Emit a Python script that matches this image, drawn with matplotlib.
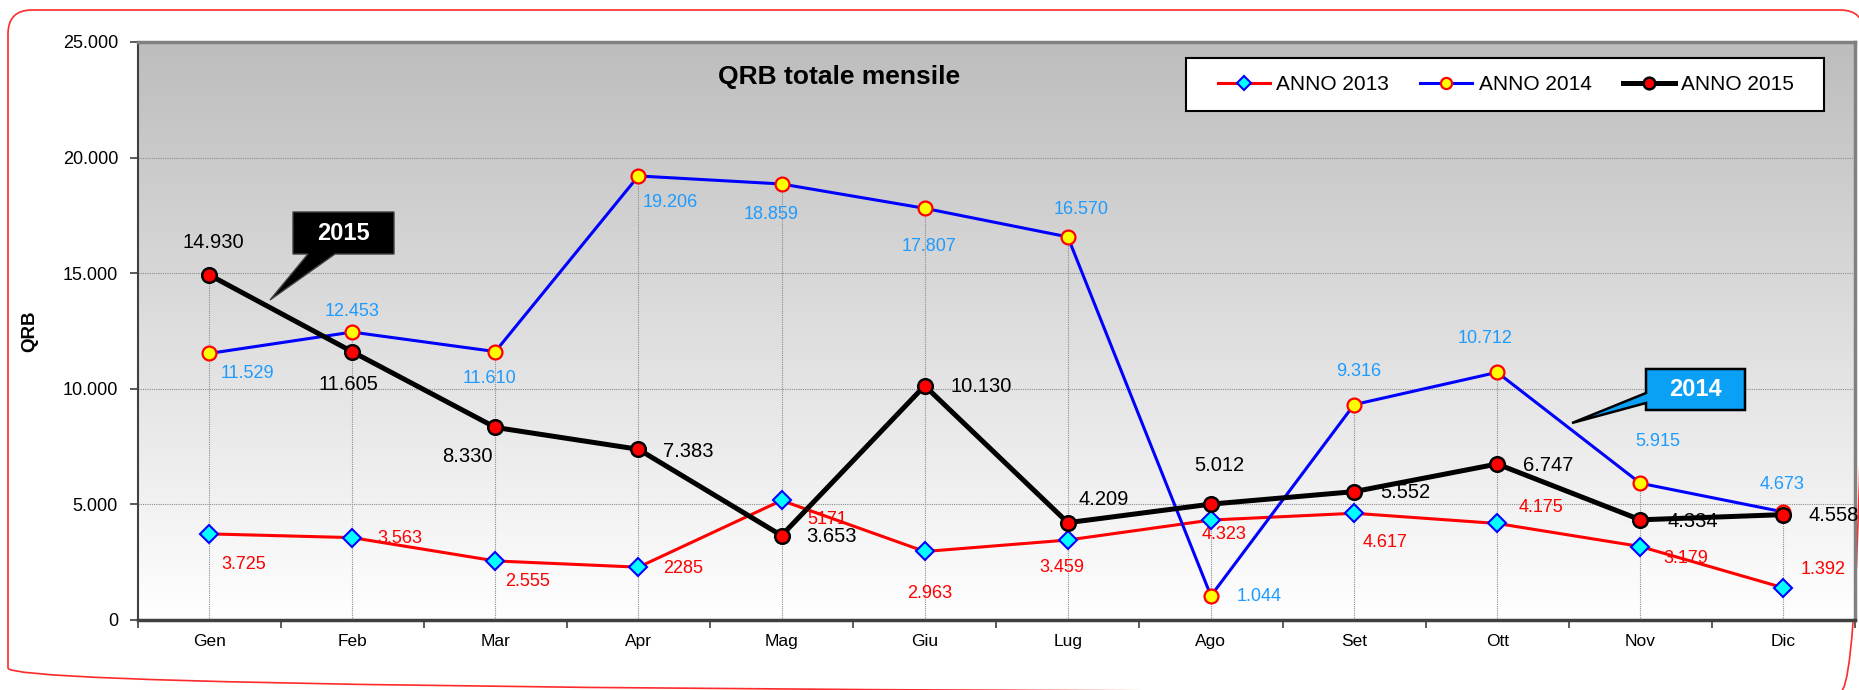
import matplotlib
matplotlib.use("Agg")
import matplotlib.pyplot as plt
import numpy as np
from matplotlib.patches import Polygon, Rectangle, FancyBboxPatch
from matplotlib.colors import LinearSegmentedColormap
from matplotlib.ticker import FixedLocator, FuncFormatter, NullFormatter
from matplotlib.lines import Line2D
from matplotlib.transforms import Affine2D

plt.rcParams['font.family'] = ['Liberation Sans', 'DejaVu Sans']

# ---------------- data ----------------
months = ["Gen", "Feb", "Mar", "Apr", "Mag", "Giu", "Lug", "Ago", "Set", "Ott", "Nov", "Dic"]
anno2013 = [3725, 3563, 2555, 2285, 5171, 2963, 3459, 4323, 4617, 4175, 3179, 1392]
anno2014 = [11529, 12453, 11610, 19206, 18859, 17807, 16570, 1044, 9316, 10712, 5915, 4673]
anno2015 = [14930, 11605, 8330, 7383, 3653, 10130, 4209, 5012, 5552, 6747, 4334, 4558]
labels2013 = ["3.725", "3.563", "2.555", "2285", "5171", "2.963", "3.459", "4.323",
              "4.617", "4.175", "3.179", "1.392"]
series_names = ["ANNO 2013", "ANNO 2014", "ANNO 2015"]
title = "QRB totale mensile"
ylabel = "QRB"

# label offsets in pixels (dx right, dy down) -- layout only
off2013 = [(35, 31), (48, 1), (32, 21), (45, 1), (46, 19), (5, 42), (-6, 27), (13, 14),
           (31, 29), (44, -16), (45, 12), (40, -18)]
off2014 = [(38, 20), (0, -21), (-6, 27), (32, 27), (-10, 31), (4, 38), (13, -27), (48, 1),
           (5, -33), (-12, -34), (17, -42), (-1, -27)]
off2015 = [(4, -32), (-4, 33), (-28, 29), (50, 2), (50, 1), (56, 1), (36, -23), (8, -39),
           (51, 1), (51, 1), (52, 2), (50, 1)]


def fmt_it(v):
    return f"{v:,.0f}".replace(",", ".")


W, H = 1859, 690
DPI = 100
fig = plt.figure(figsize=(W / DPI, H / DPI), dpi=DPI, facecolor="white")
# pixel transform (origin top-left)
PT = Affine2D().scale(1 / DPI, -1 / DPI).translate(0, H / DPI) + fig.dpi_scale_trans

# outer rounded red frame (right and bottom edges run off the image)
fig.patches.append(FancyBboxPatch((8, 10), 1856, 682,
                                  boxstyle="round,pad=0,rounding_size=24",
                                  transform=PT, facecolor="none", edgecolor="#ff2a2a",
                                  linewidth=1.2, zorder=-1))

L, R, T, B = 137.5, 1855, 42, 620
ax = fig.add_axes([L / W, 1 - B / H, (R - L) / W, (B - T) / H])
x = np.arange(len(months))
ax.set_xlim(-0.5, len(months) - 0.5)
ax.set_ylim(0, 25000)

# gradient background
cmap = LinearSegmentedColormap.from_list("bg", ["#ffffff", "#bdbdbd"])
grad = np.linspace(0, 1, 256).reshape(-1, 1)
ax.imshow(grad, cmap=cmap, aspect="auto", extent=[0, 1, 0, 1], origin="lower",
          transform=ax.transAxes, zorder=0)
ax.set_facecolor("white")

# grid & drop lines
ax.yaxis.set_major_locator(FixedLocator([0, 5000, 10000, 15000, 20000, 25000]))
ax.yaxis.set_major_formatter(FuncFormatter(lambda v, p: fmt_it(v)))
ax.grid(axis="y", color="#8c8c8c", linestyle=(0, (1, 1)), linewidth=0.8, zorder=1)
tops = np.maximum(np.maximum(anno2013, anno2014), anno2015)
ax.vlines(x, 0, tops, colors="#8c8c8c", linestyles=(0, (1, 1)), linewidth=0.8, zorder=1)

# series
l13, = ax.plot(x, anno2013, color="#ff0000", lw=2.2, marker="D", ms=9.5,
               mfc="#00ffff", mec="#0000ff", mew=1.5, zorder=4)
l14, = ax.plot(x, anno2014, color="#0000ff", lw=2.2, marker="o", ms=10,
               mfc="#ffff00", mec="#ff0000", mew=1.6, zorder=5)
l15, = ax.plot(x, anno2015, color="#000000", lw=3.6, marker="o", ms=10.5,
               mfc="#ff0000", mec="#000000", mew=1.8, zorder=6)

# data labels
for i in range(len(months)):
    ax.annotate(labels2013[i], (x[i], anno2013[i]), xytext=(off2013[i][0], -off2013[i][1]),
                textcoords="offset pixels", ha="center", va="center", color="#ff0000",
                fontsize=13, zorder=3)
    ax.annotate(fmt_it(anno2014[i]), (x[i], anno2014[i]), xytext=(off2014[i][0], -off2014[i][1]),
                textcoords="offset pixels", ha="center", va="center", color="#1e9bff",
                fontsize=13, zorder=3)
    ax.annotate(fmt_it(anno2015[i]), (x[i], anno2015[i]), xytext=(off2015[i][0], -off2015[i][1]),
                textcoords="offset pixels", ha="center", va="center", color="#000000",
                fontsize=14.5, zorder=3)

# axes ticks
ax.xaxis.set_major_locator(FixedLocator(np.arange(-0.5, len(months), 1.0)))
ax.xaxis.set_major_formatter(NullFormatter())
ax.xaxis.set_minor_locator(FixedLocator(x))
ax.set_xticklabels(months, minor=True)
ax.tick_params(axis="x", which="major", length=6, width=1.2, color="#404040", direction="out")
ax.tick_params(axis="x", which="minor", length=0, pad=10, labelsize=12.5)
ax.tick_params(axis="y", length=6, width=1.2, color="#404040", direction="out",
               labelsize=13, pad=8)

for s in ("top", "right"):
    ax.spines[s].set_color("#808080")
    ax.spines[s].set_linewidth(2.5)
ax.spines["left"].set_color("#404040")
ax.spines["left"].set_linewidth(1.5)
ax.spines["bottom"].set_color("#404040")
ax.spines["bottom"].set_linewidth(2.5)

# title and y label
fig.text(839 / W, 1 - 77 / H, title, ha="center", va="center", fontsize=19,
         fontweight="bold")
fig.text(30 / W, 1 - 331 / H, ylabel, ha="center", va="center", rotation=90,
         fontsize=13.5, fontweight="bold")

# legend
fig.patches.append(Rectangle((1186, 58), 638, 53, transform=PT, facecolor="white",
                             edgecolor="black", linewidth=1.5, zorder=7))
leg = fig.legend([l13, l14, l15], series_names, loc="center",
                 bbox_to_anchor=(1506 / W, 1 - 84.5 / H), bbox_transform=fig.transFigure,
                 ncol=3, frameon=False, fontsize=15, handlelength=2.5,
                 handletextpad=0.3, columnspacing=1.5, markerscale=0.8)
leg.set_zorder(8)

# callouts
fig.patches.append(Polygon([(293, 212), (394, 212), (394, 254), (335, 254), (270, 300),
                            (308, 254), (293, 254)], closed=True, transform=PT,
                           facecolor="black", edgecolor="#404040", linewidth=1, zorder=9))
fig.text(343.5 / W, 1 - 233 / H, "2015", ha="center", va="center", color="white",
         fontsize=17, fontweight="bold", zorder=10)
fig.patches.append(Polygon([(1646, 369), (1745, 369), (1745, 410), (1646, 410), (1646, 403),
                            (1572, 423), (1646, 393)], closed=True, transform=PT,
                           facecolor="#0aa0f5", edgecolor="black", linewidth=1.8, zorder=9))
fig.text(1695.5 / W, 1 - 389.5 / H, "2014", ha="center", va="center", color="white",
         fontsize=17, fontweight="bold", zorder=10)

fig.savefig("out.png", dpi=DPI, facecolor="white")
